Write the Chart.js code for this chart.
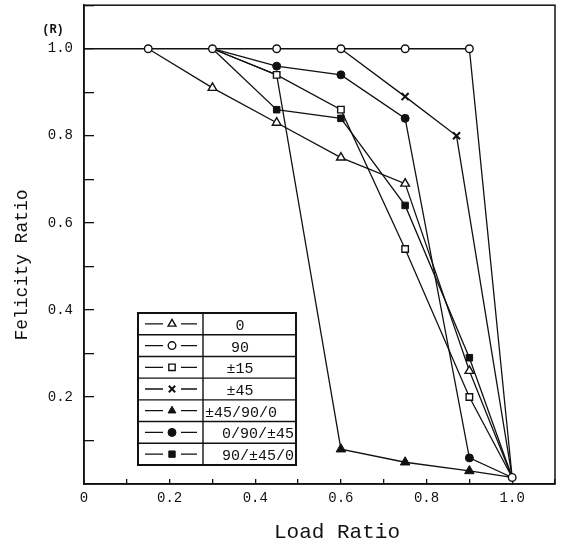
<!DOCTYPE html>
<html>
<head>
<meta charset="utf-8">
<script src="https://cdn.jsdelivr.net/npm/chart.js@4.4.1/dist/chart.umd.min.js"></script>
<style>
  html, body { margin: 0; background: #fff; }
  canvas { display: block; }
</style>
</head>
<body>
<canvas id="chart" width="561" height="545"></canvas>
<script>
// Felicity ratio against load ratio, one pair of arrays per laminate
const labels = ['0', '90', '±15', '±45', '±45/90/0', '0/90/±45', '90/±45/0'];

const load0 = [0.15, 0.3, 0.45, 0.6, 0.75, 0.9, 1.0];
const fel0  = [1.0, 0.91, 0.83, 0.75, 0.69, 0.26, 0.015];

const load90 = [0, 0.15, 0.3, 0.45, 0.6, 0.75, 0.9, 1.0];
const fel90  = [1.0, 1.0, 1.0, 1.0, 1.0, 1.0, 1.0, 0.015];

const load15 = [0.3, 0.45, 0.6, 0.75, 0.9, 1.0];
const fel15  = [1.0, 0.94, 0.86, 0.54, 0.20, 0.015];

const load45 = [0.6, 0.75, 0.87, 1.0];
const fel45  = [1.0, 0.89, 0.80, 0.015];

const loadA = [0.3, 0.45, 0.6, 0.75, 0.9, 1.0];   // ±45/90/0
const felA  = [1.0, 0.94, 0.08, 0.05, 0.03, 0.015];

const loadB = [0.3, 0.45, 0.6, 0.75, 0.9, 1.0];   // 0/90/±45
const felB  = [1.0, 0.96, 0.94, 0.84, 0.06, 0.015];

const loadC = [0.3, 0.45, 0.6, 0.75, 0.9, 1.0];   // 90/±45/0
const felC  = [1.0, 0.86, 0.84, 0.64, 0.29, 0.015];

const xs = [load0, load90, load15, load45, loadA, loadB, loadC];
const ys = [fel0, fel90, fel15, fel45, felA, felB, felC];

const INK = '#111';
const FONT = '"Liberation Mono", "DejaVu Sans Mono", monospace';

// marker look; hide = shared points drawn by another curve
const looks = [
  { style: 'triangle', fill: '#fff', r: 5,   bw: 1.4, hide: [0, 6] },
  { style: 'circle',   fill: '#fff', r: 3.8, bw: 1.4, hide: [0] },
  { style: 'rect',     fill: '#fff', r: 4.6, bw: 1.4, hide: [0, 5] },
  { style: 'crossRot', fill: INK,    r: 5,   bw: 2,   hide: [0, 3] },
  { style: 'triangle', fill: INK,    r: 5.5, bw: 1,   hide: [0, 1, 5] },
  { style: 'circle',   fill: INK,    r: 4,   bw: 1,   hide: [0, 5] },
  { style: 'rect',     fill: INK,    r: 4.6, bw: 1,   hide: [0, 5] }
];

const datasets = labels.map((name, i) => ({
  label: name,
  data: xs[i].map((x, j) => ({ x: x, y: ys[i][j] })),
  borderColor: INK,
  borderWidth: 1.3,
  tension: 0,
  fill: false,
  order: i === 1 ? 0 : 1,
  pointStyle: looks[i].style,
  pointBackgroundColor: looks[i].fill,
  pointBorderColor: INK,
  pointBorderWidth: looks[i].bw,
  pointRadius: c => looks[i].hide.includes(c.dataIndex) ? 0 : looks[i].r,
  pointHoverRadius: c => looks[i].hide.includes(c.dataIndex) ? 0 : looks[i].r
}));

function drawMarker(ctx, look, x, y, r) {
  ctx.save();
  ctx.fillStyle = look.fill;
  ctx.strokeStyle = INK;
  ctx.lineWidth = look.bw;
  ctx.beginPath();
  if (look.style === 'circle') {
    ctx.arc(x, y, r, 0, Math.PI * 2);
  } else if (look.style === 'rect') {
    const s = r * Math.SQRT1_2;
    ctx.rect(x - s, y - s, 2 * s, 2 * s);
  } else if (look.style === 'triangle') {
    let a = 0;
    ctx.moveTo(x + Math.sin(a) * r, y - Math.cos(a) * r);
    a += Math.PI * 2 / 3;
    ctx.lineTo(x + Math.sin(a) * r, y - Math.cos(a) * r);
    a += Math.PI * 2 / 3;
    ctx.lineTo(x + Math.sin(a) * r, y - Math.cos(a) * r);
    ctx.closePath();
  } else {
    const d = r * Math.SQRT1_2;
    ctx.moveTo(x - d, y - d); ctx.lineTo(x + d, y + d);
    ctx.moveTo(x - d, y + d); ctx.lineTo(x + d, y - d);
  }
  if (look.style !== 'crossRot') ctx.fill();
  ctx.stroke();
  ctx.restore();
}

// frame, axis titles, (R) and the boxed legend table
const extras = {
  id: 'extras',
  afterDraw(chart) {
    const ctx = chart.ctx;
    const a = chart.chartArea;
    ctx.save();
    ctx.strokeStyle = INK;
    ctx.lineWidth = 1.5;
    ctx.strokeRect(a.left, a.top, a.right - a.left, a.bottom - a.top);

    ctx.fillStyle = INK;
    ctx.font = 'bold 12px ' + FONT;
    ctx.textAlign = 'center';
    ctx.textBaseline = 'middle';
    ctx.fillText('(R)', 53, 30);

    ctx.font = '21px ' + FONT;
    ctx.fillText('Load Ratio', 337, 532);

    ctx.save();
    ctx.translate(22, 265);
    ctx.rotate(-Math.PI / 2);
    ctx.font = '18px ' + FONT;
    ctx.fillText('Felicity Ratio', 0, 0);
    ctx.restore();

    // legend table
    const L = 138, R = 296, T = 313, B = 465, D = 203;
    const rh = (B - T) / labels.length;
    ctx.fillStyle = '#fff';
    ctx.fillRect(L, T, R - L, B - T);
    ctx.lineWidth = 1.4;
    for (let k = 1; k < labels.length; k++) {
      ctx.beginPath();
      ctx.moveTo(L, T + k * rh); ctx.lineTo(R, T + k * rh);
      ctx.stroke();
    }
    ctx.beginPath();
    ctx.moveTo(D, T); ctx.lineTo(D, B);
    ctx.stroke();
    ctx.lineWidth = 2;
    ctx.strokeRect(L, T, R - L, B - T);

    ctx.font = '15px ' + FONT;
    ctx.fillStyle = INK;
    labels.forEach((name, k) => {
      const cy = T + k * rh + rh / 2;
      ctx.lineWidth = 1.3;
      ctx.beginPath();
      ctx.moveTo(145, cy); ctx.lineTo(163, cy);
      ctx.moveTo(181, cy); ctx.lineTo(197, cy);
      ctx.stroke();
      drawMarker(ctx, looks[k], 172, cy, Math.min(looks[k].r, 4.5));
      ctx.fillStyle = INK;
      if (name.length > 6) {
        if (k === 4) { ctx.textAlign = 'left'; ctx.fillText(name, 205, cy + 2); }
        else { ctx.textAlign = 'right'; ctx.fillText(name, 294, cy + 2); }
      } else {
        ctx.textAlign = 'center';
        ctx.fillText(name, 240, cy + 2);
      }
    });
    ctx.restore();
  }
};

function xLabel(v) {
  const n = Math.round(v * 10);
  if (n === 0) return '0';
  return (n % 2 === 0 && n <= 10) ? (n / 10).toFixed(1) : '';
}
function yLabel(v) {
  const n = Math.round(v * 10);
  return (n > 0 && n % 2 === 0 && n <= 10) ? (n / 10).toFixed(1) : '';
}

new Chart(document.getElementById('chart'), {
  type: 'line',
  data: { datasets: datasets },
  options: {
    responsive: false,
    animation: false,
    layout: { padding: { left: 0, right: 6, top: 4, bottom: 0 } },
    plugins: {
      legend: { display: false },
      tooltip: { enabled: false }
    },
    scales: {
      x: {
        type: 'linear',
        min: 0,
        max: 1.1,
        afterFit: s => { s.height = 61; s.paddingLeft = 0; s.paddingRight = 0; },
        ticks: {
          stepSize: 0.1,
          autoSkip: false,
          maxRotation: 0,
          padding: 11,
          color: INK,
          font: { family: FONT, size: 14 },
          callback: xLabel
        },
        grid: { drawOnChartArea: false, drawTicks: true, tickLength: -5, color: INK, lineWidth: 1.3 },
        border: { display: true, color: INK, width: 1.5 }
      },
      y: {
        type: 'linear',
        min: 0,
        max: 1.1,
        afterFit: s => { s.width = 84; s.paddingTop = 0; s.paddingBottom = 0; },
        ticks: {
          stepSize: 0.1,
          autoSkip: false,
          padding: 21,
          color: INK,
          font: { family: FONT, size: 14 },
          callback: yLabel
        },
        grid: { drawOnChartArea: false, drawTicks: true, tickLength: -10, color: INK, lineWidth: 1.3 },
        border: { display: true, color: INK, width: 1.5 }
      }
    }
  },
  plugins: [extras]
});
</script>
</body>
</html>
